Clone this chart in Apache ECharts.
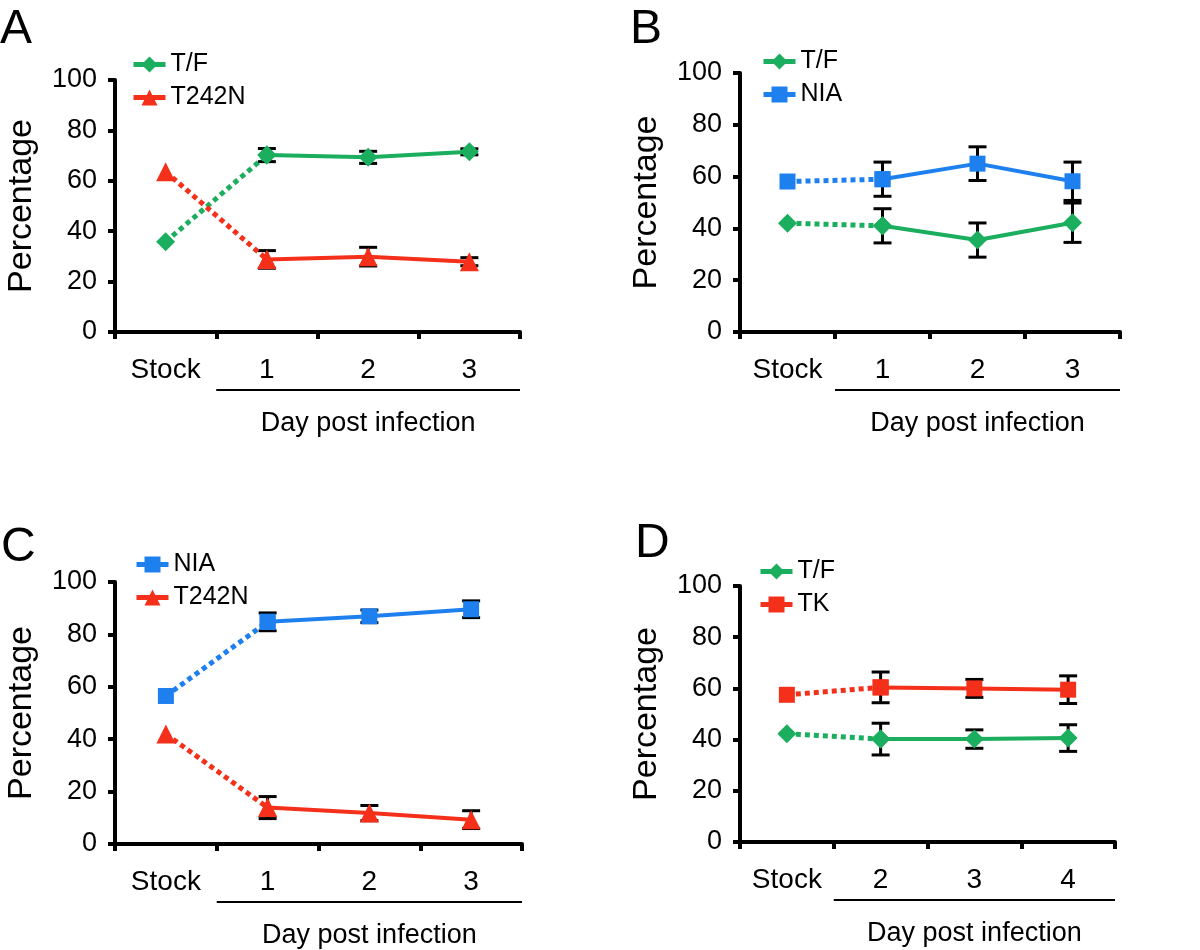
<!DOCTYPE html>
<html>
<head>
<meta charset="utf-8">
<script src="https://cdn.jsdelivr.net/npm/echarts@6/dist/echarts.min.js"></script>
<style>
  html, body { margin: 0; padding: 0; background: #fff; }
  #chart { width: 1200px; height: 950px; }
</style>
</head>
<body>
<div id="chart"></div>
<script>
// data (percentage of each variant)
const catsABC = ['Stock', '1', '2', '3']
const catsD = ['Stock', '2', '3', '4']
const yTicks = [0, 20, 40, 60, 80, 100]

// panel A
const tfA = [35.8, 70.2, 69.3, 71.5]
const tfAErr = [null, 2.6, 2.4, 1.2]
const t242nA = [63.6, 28.8, 29.9, 27.9]
const t242nAErr = [null, 3.5, 3.7, 1.6]

// panel B
const tfB = [42.0, 41.0, 35.5, 42.2]
const tfBErr = [null, 6.6, 6.6, 7.6]
const niaB = [58.1, 59.0, 65.0, 58.2]
const niaBErr = [null, 6.6, 6.5, 7.4]

// panel C
const niaC = [56.5, 84.8, 86.9, 89.6]
const niaCErr = [null, 3.4, 2.4, 3.2]
const t242nC = [42.0, 13.9, 11.8, 9.3]
const t242nCErr = [null, 4.2, 2.9, 3.4]

// panel D
const tfD = [42.3, 40.2, 40.2, 40.6]
const tfDErr = [null, 6.2, 3.6, 5.2]
const tkD = [57.5, 60.4, 60.0, 59.5]
const tkDErr = [null, 6.0, 3.5, 5.4]

const GREEN = '#1aae5e'
const RED = '#f5301a'
const BLUE = '#1e80ee'
const FONT = 'Liberation Sans, Arial, Helvetica, sans-serif'

const look = {
  'T/F': { color: GREEN, symbol: 'diamond', size: 19 },
  'T242N': { color: RED, symbol: 'triangle', size: 19 },
  'NIA': { color: BLUE, symbol: 'rect', size: 16 },
  'TK': { color: RED, symbol: 'rect', size: 16 }
}

const panels = [
  { letter: 'A', letterPos: [0, 6], cats: catsABC, grid: { left: 115, top: 80, width: 405, height: 252 },
    legend: { left: 126, top: 47 },
    series: [['T/F', tfA, tfAErr], ['T242N', t242nA, t242nAErr]] },
  { letter: 'B', letterPos: [630, 6], cats: catsABC, grid: { left: 740, top: 73, width: 380, height: 259 },
    legend: { left: 756, top: 44 },
    series: [['T/F', tfB, tfBErr], ['NIA', niaB, niaBErr]] },
  { letter: 'C', letterPos: [1, 524], cats: catsABC, grid: { left: 115, top: 582, width: 407, height: 262 },
    legend: { left: 129, top: 547 },
    series: [['NIA', niaC, niaCErr], ['T242N', t242nC, t242nCErr]] },
  { letter: 'D', letterPos: [635, 520], cats: catsD, grid: { left: 740, top: 586, width: 375, height: 256 },
    legend: { left: 753, top: 554 },
    series: [['T/F', tfD, tfDErr], ['TK', tkD, tkDErr]] }
]

function renderErr(params, api) {
  const x = api.value(0)
  const v = api.value(1)
  const e = api.value(2)
  const top = api.coord([x, v + e])
  const bot = api.coord([x, v - e])
  const hw = 9
  const style = { stroke: '#000', lineWidth: 3 }
  return {
    type: 'group',
    children: [
      { type: 'line', shape: { x1: top[0], y1: top[1], x2: bot[0], y2: bot[1] }, style: style },
      { type: 'line', shape: { x1: top[0] - hw, y1: top[1], x2: top[0] + hw, y2: top[1] }, style: style },
      { type: 'line', shape: { x1: bot[0] - hw, y1: bot[1], x2: bot[0] + hw, y2: bot[1] }, style: style }
    ]
  }
}

const grid = []
const xAxis = []
const yAxis = []
const legend = []
const series = []
const graphic = []

panels.forEach((p, i) => {
  grid.push(p.grid)
  xAxis.push({
    type: 'category',
    gridIndex: i,
    data: p.cats,
    boundaryGap: true,
    axisLine: { lineStyle: { color: '#000', width: 4 } },
    axisTick: { show: true, length: 7, lineStyle: { color: '#000', width: 4 } },
    axisLabel: { color: '#000', fontSize: 28, fontFamily: FONT, margin: 24 },
    splitLine: { show: false }
  })
  yAxis.push({
    type: 'value',
    gridIndex: i,
    min: yTicks[0],
    max: yTicks[yTicks.length - 1],
    interval: yTicks[1] - yTicks[0],
    name: 'Percentage',
    nameLocation: 'middle',
    nameGap: 76,
    nameTextStyle: { color: '#000', fontSize: 34, fontFamily: FONT },
    axisLine: { show: true, lineStyle: { color: '#000', width: 4 } },
    axisTick: { show: true, length: 7, lineStyle: { color: '#000', width: 4 } },
    axisLabel: { color: '#000', fontSize: 27, fontFamily: FONT, margin: 18 },
    splitLine: { show: false }
  })
  legend.push({
    orient: 'vertical',
    left: p.legend.left,
    top: p.legend.top,
    itemWidth: 32,
    itemHeight: 20,
    itemGap: 8,
    data: p.series.map(s => s[0]),
    lineStyle: { width: 5 },
    textStyle: { color: '#000', fontSize: 25, fontFamily: FONT },
    selectedMode: false
  })

  p.series.forEach(([name, vals, errs]) => {
    const lk = look[name]
    // solid part: day 1 onwards
    series.push({
      name: name,
      type: 'line',
      xAxisIndex: i,
      yAxisIndex: i,
      data: vals.map((v, k) => (k === 0 ? '-' : v)),
      symbol: lk.symbol,
      symbolSize: lk.size,
      itemStyle: { color: lk.color },
      lineStyle: { color: lk.color, width: 4 },
      animation: false,
      z: 3
    })
    // dotted part: stock to day 1
    series.push({
      name: name + ' stock',
      type: 'line',
      xAxisIndex: i,
      yAxisIndex: i,
      data: vals.map((v, k) => (k < 2 ? v : '-')),
      symbol: lk.symbol,
      symbolSize: lk.size,
      itemStyle: { color: lk.color },
      lineStyle: { color: lk.color, width: 5, type: [5, 4] },
      animation: false,
      z: 2
    })
    // error bars
    series.push({
      name: name + ' err',
      type: 'custom',
      xAxisIndex: i,
      yAxisIndex: i,
      renderItem: renderErr,
      data: errs.map((e, k) => (e == null ? null : [k, vals[k], e])).filter(d => d),
      animation: false,
      z: 1
    })
  })

  // panel letter
  graphic.push({
    type: 'text',
    left: p.letterPos[0],
    top: p.letterPos[1],
    style: { text: p.letter, fontSize: 48, fontFamily: FONT, fill: '#000' }
  })
})

const chart = echarts.init(document.getElementById('chart'))
chart.setOption({
  backgroundColor: '#fff',
  animation: false,
  grid: grid,
  xAxis: xAxis,
  yAxis: yAxis,
  legend: legend,
  series: series,
  graphic: graphic
})

// "Day post infection" bracket under categories after Stock
const extra = []
panels.forEach((p, i) => {
  const c0 = chart.convertToPixel({ xAxisIndex: i }, p.cats[0])
  const c1 = chart.convertToPixel({ xAxisIndex: i }, p.cats[1])
  const x0 = (c0 + c1) / 2
  const x1 = p.grid.left + p.grid.width
  const y = p.grid.top + p.grid.height + 58
  extra.push({
    type: 'line',
    shape: { x1: x0, y1: y, x2: x1, y2: y },
    style: { stroke: '#000', lineWidth: 2 }
  })
  extra.push({
    type: 'text',
    x: (x0 + x1) / 2,
    y: y + 34,
    style: { text: 'Day post infection', fontSize: 27, fontFamily: FONT, fill: '#000', align: 'center', verticalAlign: 'middle' }
  })
})
chart.setOption({ graphic: graphic.concat(extra) })
</script>
</body>
</html>
